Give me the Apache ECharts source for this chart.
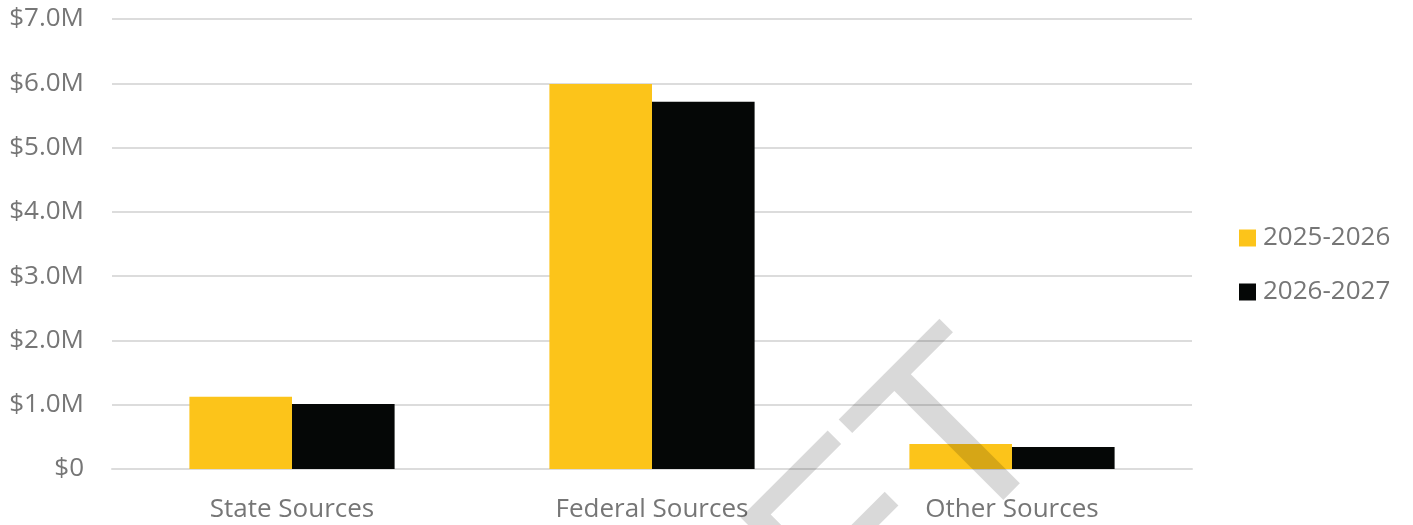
<!DOCTYPE html>
<html>
<head>
<meta charset="utf-8">
<script src="https://cdn.jsdelivr.net/npm/echarts@6/dist/echarts.min.js"></script>
<style>
  html, body { margin: 0; padding: 0; background: #ffffff; }
  #chart { width: 1413px; height: 525px; }
</style>
</head>
<body>
<div id="chart"></div>
<script>
// Funding sources by fiscal year (dollars)
const categories = ['State Sources', 'Federal Sources', 'Other Sources'];
const seriesNames = ['2025-2026', '2026-2027'];
const values2025 = [1125000, 5990000, 389000];
const values2026 = [1011000, 5713000, 342000];
const seriesColors = ['#FCC41A', '#050706'];

const FONT = '"Open Sans", "Noto Sans", sans-serif';
const TEXT_GRAY = '#767676';
const GRID_GRAY = '#dcdcdc';

function money(v) {
  if (v === 0) return '$0';
  return '$' + (v / 1e6).toFixed(1) + 'M';
}

const chart = echarts.init(document.getElementById('chart'), null, { renderer: 'canvas' });

chart.setOption({
  animation: false,
  backgroundColor: '#ffffff',
  textStyle: { fontFamily: FONT },
  grid: { left: 112, right: 221, top: 19, bottom: 56, containLabel: false },
  legend: {
    orient: 'vertical',
    left: 1239,
    top: 225,
    padding: 0,
    itemWidth: 17,
    itemHeight: 17,
    itemGap: 28,
    icon: 'rect',
    textStyle: { color: TEXT_GRAY, fontSize: 26, fontFamily: FONT, padding: [0, 0, 0, 2] },
    data: seriesNames
  },
  xAxis: {
    type: 'category',
    data: categories,
    axisLine: { show: true, lineStyle: { color: GRID_GRAY, width: 2 } },
    axisTick: { show: false },
    axisLabel: { color: TEXT_GRAY, fontSize: 26, fontFamily: FONT, margin: 28 }
  },
  yAxis: {
    type: 'value',
    min: 0,
    max: 7000000,
    interval: 1000000,
    axisLine: { show: false },
    axisTick: { show: false },
    splitLine: { lineStyle: { color: GRID_GRAY, width: 2 } },
    axisLabel: { color: TEXT_GRAY, fontSize: 26, fontFamily: FONT, margin: 28, formatter: money }
  },
  series: [
    {
      name: seriesNames[0],
      type: 'bar',
      data: values2025,
      itemStyle: { color: seriesColors[0] },
      barGap: '0%',
      barCategoryGap: '43%'
    },
    {
      name: seriesNames[1],
      type: 'bar',
      data: values2026,
      itemStyle: { color: seriesColors[1] },
      barGap: '0%',
      barCategoryGap: '43%'
    }
  ],
  graphic: [
    {
      // diagonal "DRAFT" watermark laid over the plot
      type: 'text',
      x: 1017,
      y: 388,
      rotation: Math.PI / 4,
      z: 100,
      silent: true,
      style: {
        text: 'DRAFT',
        fill: 'rgba(0,0,0,0.15)',
        font: '252px "Liberation Sans", Arial, sans-serif',
        align: 'right',
        verticalAlign: 'middle'
      }
    }
  ]
});
</script>
</body>
</html>
